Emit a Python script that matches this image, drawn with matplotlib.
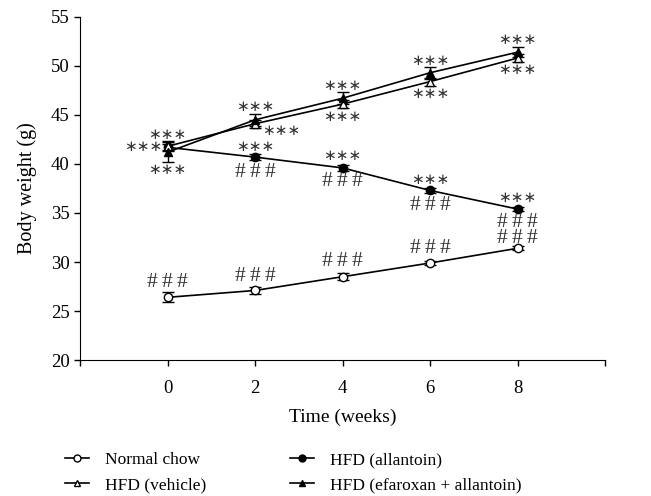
import matplotlib.pyplot as plt
from matplotlib.lines import Line2D

plt.rcParams['font.family'] = ['Liberation Serif', 'DejaVu Serif']

weeks = [0, 2, 4, 6, 8]

normal_chow = [26.4, 27.1, 28.5, 29.9, 31.4]
normal_err = [0.5, 0.35, 0.35, 0.2, 0.2]

hfd_vehicle = [41.8, 44.1, 46.1, 48.4, 50.8]
vehicle_err = [0.5, 0.4, 0.4, 0.4, 0.4]

hfd_allantoin = [41.7, 40.7, 39.6, 37.3, 35.4]
allantoin_err = [0.3, 0.3, 0.3, 0.25, 0.2]

hfd_efaroxan = [41.2, 44.5, 46.7, 49.3, 51.4]
efaroxan_err = [1.0, 0.6, 0.6, 0.6, 0.5]

labels = ['Normal chow', 'HFD (vehicle)', 'HFD (allantoin)', 'HFD (efaroxan + allantoin)']

# (series, week index, text, dx px, dy px)
stars = '\u2217\u2217\u2217'
hashes = '#\u2009#\u2009#'
notes = [
    ('veh', 0, stars, 0, 11), ('all', 0, stars, -24, 0), ('efa', 0, stars, 0, -18),
    ('efa', 1, stars, 0, 12), ('veh', 1, stars, 26, -8),
    ('all', 1, stars, 0, 10), ('all', 1, hashes, 0, -15),
    ('efa', 2, stars, 0, 12), ('veh', 2, stars, 0, -13),
    ('all', 2, stars, 0, 11), ('all', 2, hashes, 0, -14),
    ('efa', 3, stars, 0, 11), ('veh', 3, stars, 0, -13),
    ('all', 3, stars, 0, 10), ('all', 3, hashes, 0, -15),
    ('efa', 4, stars, 0, 12), ('veh', 4, stars, 0, -12),
    ('all', 4, stars, 0, 11), ('all', 4, hashes, 0, -13),
    ('nc', 0, hashes, 0, 15), ('nc', 1, hashes, 0, 14), ('nc', 2, hashes, 0, 15),
    ('nc', 3, hashes, 0, 15), ('nc', 4, hashes, 0, 10),
]

fig = plt.figure(figsize=(6.51, 4.96), dpi=100)
ax = fig.add_axes([0.1229, 0.274, 0.8065, 0.692])

series = {
    'nc': (normal_chow, normal_err, 'o', 'white'),
    'veh': (hfd_vehicle, vehicle_err, '^', 'white'),
    'all': (hfd_allantoin, allantoin_err, 'o', 'black'),
    'efa': (hfd_efaroxan, efaroxan_err, '^', 'black'),
}
for key in ['nc', 'all', 'veh', 'efa']:
    vals, err, m, fc = series[key]
    ax.errorbar(weeks, vals, yerr=err, color='black', lw=1.2, marker=m, ms=6,
                mfc=fc, mec='black', mew=1.0, capsize=4, elinewidth=1.0, capthick=1.2)

for key, i, txt, dx, dy in notes:
    vals = series[key][0]
    ax.annotate(txt, (weeks[i], vals[i]), xytext=(dx, dy), textcoords='offset pixels',
                ha='center', va='center', fontsize=15.5 if txt == hashes else 11,
                color='#333333', family=['Liberation Serif', 'DejaVu Sans'])

ax.set_xlim(-2, 10)
ax.set_ylim(20, 55)
ax.set_xticks([-2, 0, 2, 4, 6, 8, 10])
ax.set_xticklabels(['', '0', '2', '4', '6', '8', ''])
ax.set_yticks(range(20, 56, 5))
ax.spines['top'].set_visible(False)
ax.spines['right'].set_visible(False)
ax.tick_params(direction='out', length=4, width=1, labelsize=13.5)
ax.tick_params(axis='x', pad=10)
ax.set_xlabel('Time (weeks)', fontsize=14, labelpad=9)
ax.set_ylabel('Body weight (g)', fontsize=14.5, labelpad=10)

handles = []
for key in ['nc', 'veh', 'all', 'efa']:
    _, _, m, fc = series[key]
    handles.append(Line2D([], [], color='black', lw=1.2, marker=m, ms=5,
                          mfc=fc, mec='black', mew=1.0))
leg_kw = dict(frameon=False, loc='upper left', fontsize=12.5, borderpad=0,
              borderaxespad=0, handlelength=1.4, handletextpad=0.9, labelspacing=0.5)
fig.legend(handles[:2], labels[:2], bbox_to_anchor=(65 / 651, 1 - 452 / 496), **leg_kw)
fig.legend(handles[2:], labels[2:], bbox_to_anchor=(290 / 651, 1 - 452 / 496), **leg_kw)

fig.savefig('out.png', dpi=100)
